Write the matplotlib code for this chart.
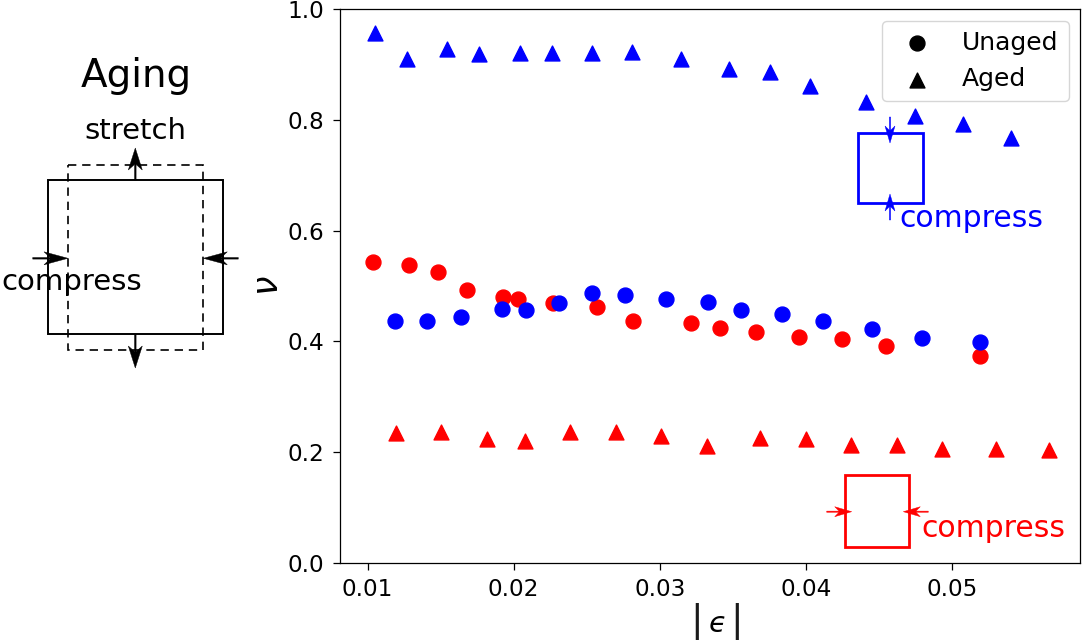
import matplotlib
matplotlib.use("Agg")
import matplotlib.pyplot as plt
from matplotlib.patches import Rectangle, FancyArrow

# ---------------- data ----------------
unaged_red_x = [0.01038, 0.01284, 0.01483, 0.01681, 0.01927, 0.02027, 0.02269, 0.02572,
                0.02818, 0.03215, 0.03413, 0.03659, 0.03955, 0.04251, 0.04548, 0.05190]
unaged_red_y = [0.544, 0.538, 0.525, 0.493, 0.480, 0.477, 0.469, 0.462,
                0.437, 0.434, 0.424, 0.417, 0.408, 0.405, 0.392, 0.374]

unaged_blue_x = [0.01187, 0.01410, 0.01636, 0.01918, 0.02087, 0.02312, 0.02538, 0.02763,
                 0.03046, 0.03328, 0.03554, 0.03837, 0.04117, 0.04456, 0.04796, 0.05190]
unaged_blue_y = [0.437, 0.436, 0.4435, 0.458, 0.457, 0.469, 0.487, 0.483,
                 0.476, 0.472, 0.457, 0.449, 0.437, 0.422, 0.407, 0.399]

aged_blue_x = [0.01048, 0.01269, 0.01544, 0.01766, 0.02041, 0.02262, 0.02538, 0.02813,
               0.03144, 0.03476, 0.03752, 0.04028, 0.04413, 0.04746, 0.05076, 0.05406]
aged_blue_y = [0.957, 0.910, 0.928, 0.919, 0.922, 0.922, 0.921, 0.923,
               0.910, 0.892, 0.887, 0.861, 0.833, 0.808, 0.793, 0.768]

aged_red_x = [0.01191, 0.01501, 0.01817, 0.02076, 0.02383, 0.02703, 0.03010, 0.03323,
              0.03685, 0.03998, 0.04312, 0.04625, 0.04935, 0.05300, 0.05662]
aged_red_y = [0.234, 0.2366, 0.2232, 0.2196, 0.2359, 0.2362, 0.2281, 0.2106,
              0.225, 0.2239, 0.2131, 0.2133, 0.2055, 0.2046, 0.2042]

x_ticks = [0.01, 0.02, 0.03, 0.04, 0.05]
y_ticks = [0.0, 0.2, 0.4, 0.6, 0.8, 1.0]
legend_labels = ["Unaged", "Aged"]

RED = "#ff0000"
BLUE = "#0000ff"
S = 115

W, H = 1085, 640
fig = plt.figure(figsize=(W / 100, H / 100), dpi=100)
ax = fig.add_axes([340 / W, 1 - 562.7 / H, (1080 - 340) / W, (562.7 - 9.4) / H])

ax.scatter(unaged_red_x, unaged_red_y, s=S, c=RED, marker="o", zorder=3)
ax.scatter(unaged_blue_x, unaged_blue_y, s=S, c=BLUE, marker="o", zorder=3)
ax.scatter(aged_blue_x, aged_blue_y, s=S, c=BLUE, marker="^", zorder=3)
ax.scatter(aged_red_x, aged_red_y, s=S, c=RED, marker="^", zorder=3)

# legend proxies
h1 = ax.scatter([], [], s=S, c="k", marker="o")
h2 = ax.scatter([], [], s=S, c="k", marker="^")
ax.legend([h1, h2], legend_labels, loc="upper right", fontsize=18, scatterpoints=1,
          borderaxespad=0.45)

ax.set_xlim(0.00811, 0.05877)
ax.set_ylim(0.0, 1.0)
ax.set_xticks(x_ticks)
ax.set_xticklabels([f"{v:.2f}" for v in x_ticks])
ax.set_yticks(y_ticks)
ax.set_yticklabels([f"{v:.1f}" for v in y_ticks])
ax.tick_params(labelsize=16.7, length=4.8, width=0.9, pad=6.5)
for sp in ax.spines.values():
    sp.set_linewidth(0.9)
ax.set_ylabel(r"$\nu$", fontsize=25, labelpad=1.5)

# ---------------- overlay (pixel coordinates) ----------------
ov = fig.add_axes([0, 0, 1, 1], zorder=5)
ov.set_xlim(0, W)
ov.set_ylim(H, 0)
ov.axis("off")
ov.patch.set_alpha(0)

# x label |eps| with tall bars
ov.text(716.5, 631.5, "$\u03f5$", fontsize=21, ha="center", va="baseline")
ov.text(696.5, 630.3, "|", fontsize=27, ha="center", va="baseline", color="#1a1a1a")
ov.text(737, 630.3, "|", fontsize=27, ha="center", va="baseline", color="#1a1a1a")


def arrow(x0, y0, x1, y1, color, lw, hl, hw):
    ov.add_patch(FancyArrow(x0, y0, x1 - x0, y1 - y0, width=lw,
                            head_width=hw, head_length=hl, overhang=0.25,
                            length_includes_head=True, fc=color, ec=color, lw=0.3))


# left schematic
ov.add_patch(Rectangle((48.3, 180), 222.7 - 48.3, 334.3 - 180, fill=False,
                       ec="k", lw=1.4))
ov.add_patch(Rectangle((68, 165), 203.3 - 68, 350 - 165, fill=False,
                       ec="k", lw=1.2, ls=(0, (5, 3.5))))
arrow(135.3, 180, 135.3, 148, "k", 1.6, 22, 14)
arrow(135.3, 334.3, 135.3, 368, "k", 1.6, 22, 14)
arrow(32.7, 258.3, 68, 258.3, "k", 1.6, 24, 13)
arrow(238.3, 258.3, 203.3, 258.3, "k", 1.6, 24, 13)
ov.text(136.7, 86.7, "Aging", fontsize=28, ha="center", va="baseline")
ov.text(135, 139.3, "stretch", fontsize=21, ha="center", va="baseline")
ov.text(71.5, 290, "compress", fontsize=21, ha="center", va="baseline")

# blue inset
ov.add_patch(Rectangle((858.3, 133.3), 922.7 - 858.3, 202.7 - 133.3, fill=False,
                       ec=BLUE, lw=2.0))
arrow(890, 117, 890, 143, BLUE, 1.2, 17, 10)
arrow(890, 220, 890, 194, BLUE, 1.2, 17, 10)
ov.text(899, 227.3, "compress", fontsize=21.5, color=BLUE, ha="left", va="baseline")

# red inset
ov.add_patch(Rectangle((845, 475), 909.3 - 845, 547.3 - 475, fill=False,
                       ec=RED, lw=2.0))
arrow(826.7, 511.7, 851.7, 511.7, RED, 1.2, 17, 10)
arrow(928.3, 511.7, 903.3, 511.7, RED, 1.2, 17, 10)
ov.text(921, 537.3, "compress", fontsize=21.5, color=RED, ha="left", va="baseline")

fig.savefig("out.png", dpi=100)
